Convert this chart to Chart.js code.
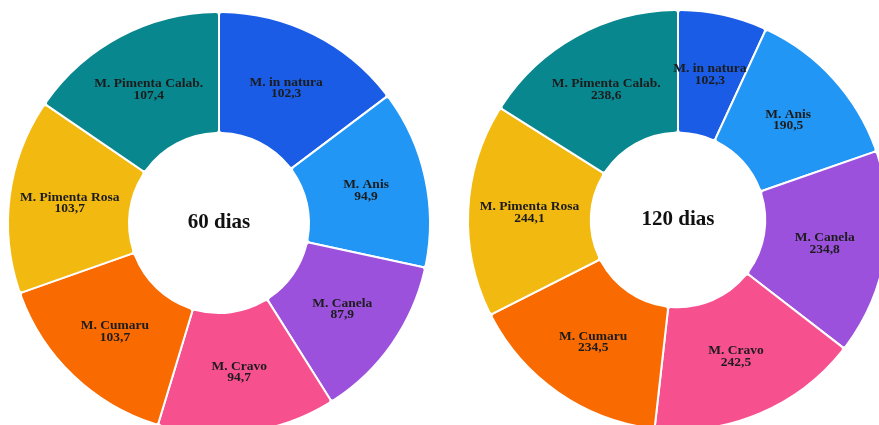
<!DOCTYPE html>
<html>
<head>
<meta charset="utf-8">
<script src="https://cdn.jsdelivr.net/npm/chart.js@4"></script>
<style>
html,body{margin:0;padding:0;background:#fff;width:879px;height:425px;overflow:hidden;position:relative;}
.box{position:absolute;}
</style>
</head>
<body>
<div class="box" id="b1" style="left:0px;top:0px;width:438px;height:446px;"><canvas id="c1"></canvas></div>
<div class="box" id="b2" style="left:448px;top:0px;width:460px;height:440px;"><canvas id="c2"></canvas></div>
<script>
const categories = ["M. in natura","M. Anis","M. Canela","M. Cravo","M. Cumaru","M. Pimenta Rosa","M. Pimenta Calab."];
const values60 = [102.3, 94.9, 87.9, 94.7, 103.7, 103.7, 107.4];
const values120 = [102.3, 190.5, 234.8, 242.5, 234.5, 244.1, 238.6];
const titles = ["60 dias", "120 dias"];
const colors = ["#1a5ce6","#2196f5","#9b51dc","#f7508f","#f96a00","#f2b911","#09878f"];

const fmt = v => v.toFixed(1).replace('.', ',');

const labelPlugin = {
  id: 'sliceLabels',
  afterDatasetsDraw(chart, args, opts) {
    const ctx = chart.ctx;
    const meta = chart.getDatasetMeta(0);
    const data = chart.data.datasets[0].data;
    ctx.save();
    ctx.fillStyle = '#1c1c1c';
    ctx.textAlign = 'center';
    ctx.textBaseline = 'middle';
    ctx.font = 'bold 13.5px "Liberation Serif", serif';
    meta.data.forEach((arc, i) => {
      const p = arc.tooltipPosition();
      ctx.fillText(chart.data.labels[i], p.x, p.y - 6);
      ctx.fillText(fmt(data[i]), p.x, p.y + 5.5);
    });
    const a = meta.data[0];
    ctx.font = 'bold 21px "Liberation Serif", serif';
    ctx.fillStyle = '#111';
    ctx.fillText(opts.title, a.x, a.y);
    ctx.restore();
  }
};

function make(id, values, title, radius, cutout) {
  new Chart(document.getElementById(id), {
    type: 'doughnut',
    data: {
      labels: categories,
      datasets: [{
        data: values,
        backgroundColor: colors,
        borderColor: '#ffffff',
        borderWidth: 2,
        borderRadius: 3,
        hoverOffset: 0
      }]
    },
    options: {
      responsive: true,
      maintainAspectRatio: false,
      animation: false,
      radius: radius,
      cutout: cutout,
      layout: { padding: 0 },
      plugins: {
        legend: { display: false },
        tooltip: { enabled: false },
        sliceLabels: { title: title }
      }
    },
    plugins: [labelPlugin]
  });
}

make('c1', values60, titles[0], 211, 93);
make('c2', values120, titles[1], 210, 91);
</script>
</body>
</html>
